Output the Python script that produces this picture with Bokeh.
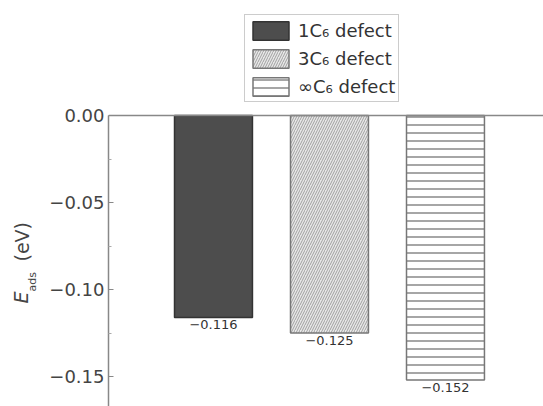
import math
from bokeh.plotting import figure
from bokeh.layouts import row
from bokeh.models import Range1d, Span, Legend, LegendItem, CustomJSTickFormatter, ColumnDataSource, FixedTicker
from bokeh.core.properties import value
from bokeh.embed import file_html
from bokeh.resources import INLINE

categories = ["1C\u2086 defect", "3C\u2086 defect", "\u221eC\u2086 defect"]
energies = [-0.116, -0.125, -0.152]
value_labels = ["\u22120.116", "\u22120.125", "\u22120.152"]
y_ticks = [0.0, -0.05, -0.10, -0.15]
minor_ticks = [-0.025, -0.075, -0.125]

FONT = "DejaVu Sans"
LW = 40   # width of the y-label strip

# y-label strip (pixel-coordinate figure)
lf = figure(width=LW, height=406, output_backend="svg", toolbar_location=None,
            x_range=Range1d(0, LW), y_range=Range1d(0, 406),
            x_axis_location=None, y_axis_location=None,
            min_border=0)
lf.outline_line_color = None
lf.grid.visible = False
common = dict(angle=math.pi / 2, text_align="left", text_baseline="middle",
              text_color="#444444", text_font=value(FONT))
lf.text(x=[20], y=[103], text=["E"], text_font_size="19px", text_font_style="italic", **common)
lf.text(x=[32], y=[115], text=["ads"], text_font_size="11px", **common)
lf.text(x=[21], y=[145], text=["(eV)"], text_font_size="19px", **common)

# main plot
p = figure(width=543 - LW, height=406, output_backend="svg", toolbar_location=None,
           x_range=Range1d(0.095, 3.845), y_range=Range1d(-0.1672, 0.0661),
           x_axis_location=None, min_border_left=108 - LW, min_border_top=0,
           min_border_right=0, min_border_bottom=0)
p.outline_line_color = None
p.grid.visible = False

xs = [1, 2, 3]
styles = [
    dict(fill_color="#4d4d4d", line_color="#333333"),
    dict(fill_color="#e8e8e8", line_color="#777777", hatch_pattern="/", hatch_color="#a0a0a0",
         hatch_scale=5, hatch_weight=1),
    dict(fill_color="white", line_color="#777777", hatch_pattern="-", hatch_color="#888888",
         hatch_scale=8, hatch_weight=1.5),
]
items = []
for i in range(3):
    r = p.vbar(x=[xs[i]], top=[0], bottom=[energies[i]], width=0.672, line_width=1.5, **styles[i])
    items.append(LegendItem(label=categories[i], renderers=[r]))

src = ColumnDataSource(dict(x=xs, y=energies, t=value_labels))
p.text(x="x", y="y", text="t", source=src, text_align="center", text_baseline="top",
       y_offset=3, text_font_size="13px", text_color="#333333", text_font=value(FONT))

p.add_layout(Span(location=0, dimension="width", line_color="#888888", line_width=1.5))

leg = Legend(items=items, location=(136, 304), glyph_width=45, glyph_height=23,
             label_height=24, spacing=4, padding=3, margin=0,
             label_text_font_size="18px", label_text_font=FONT, label_text_color="#333333",
             border_line_color="#999999", border_line_width=1.5, label_standoff=5)
p.add_layout(leg, "center")

ax = p.yaxis[0]
ax.ticker = FixedTicker(ticks=y_ticks, minor_ticks=minor_ticks)
ax.bounds = (-0.1672, 0.0)
ax.formatter = CustomJSTickFormatter(code="return tick.toFixed(2).replace('-', '\u2212');")
ax.major_label_text_font_size = "18px"
ax.major_label_text_font = FONT
ax.major_label_text_color = "#444444"
ax.axis_line_color = "#888888"
ax.axis_line_width = 1.5
ax.major_tick_line_color = "#888888"
ax.minor_tick_line_color = "#aaaaaa"
ax.major_tick_out = 0
ax.major_tick_in = 5
ax.minor_tick_in = 3
ax.minor_tick_out = 0
ax.major_label_standoff = 4

layout = row(lf, p, spacing=0)
open("out.html", "w").write(file_html(layout, INLINE))
